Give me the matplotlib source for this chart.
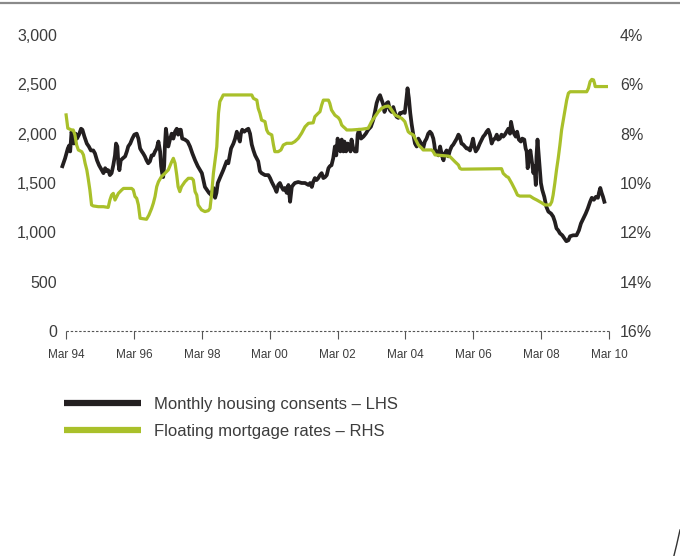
import matplotlib
matplotlib.use("Agg")
import matplotlib.pyplot as plt
from matplotlib.lines import Line2D
import numpy as np

# Monthly housing consents (left axis), dates as decimal years
consents_year = [
    1994.06, 1994.14, 1994.22, 1994.26, 1994.29, 1994.33, 1994.37, 1994.40, 1994.45, 1994.49,
    1994.55, 1994.61, 1994.65, 1994.71, 1994.78, 1994.84, 1994.90, 1994.97, 1995.02, 1995.08,
    1995.14, 1995.22, 1995.27, 1995.32, 1995.37, 1995.41, 1995.46, 1995.51, 1995.56, 1995.61,
    1995.64, 1995.68, 1995.71, 1995.74, 1995.78, 1995.84, 1995.91, 1995.96, 1996.00, 1996.06,
    1996.12, 1996.18, 1996.25, 1996.30, 1996.35, 1996.40, 1996.44, 1996.49, 1996.54, 1996.59,
    1996.64, 1996.69, 1996.74, 1996.79, 1996.84, 1996.89, 1996.94, 1996.97, 1997.00, 1997.03,
    1997.06, 1997.08, 1997.11, 1997.14, 1997.18, 1997.23, 1997.28, 1997.33, 1997.38, 1997.43,
    1997.47, 1997.52, 1997.55, 1997.59, 1997.67, 1997.75, 1997.82, 1997.89, 1997.97, 1998.05,
    1998.17, 1998.26, 1998.38, 1998.44, 1998.51, 1998.56, 1998.60, 1998.64, 1998.70, 1998.80,
    1998.90, 1998.95, 1999.03, 1999.10, 1999.15, 1999.20, 1999.24, 1999.29, 1999.32, 1999.36,
    1999.42, 1999.49, 1999.54, 1999.59, 1999.64, 1999.69, 1999.74, 1999.83, 1999.88, 1999.93,
    2000.03, 2000.13, 2000.18, 2000.23, 2000.32, 2000.37, 2000.42, 2000.47, 2000.52, 2000.57,
    2000.62, 2000.67, 2000.72, 2000.77, 2000.82, 2000.86, 2000.91, 2001.01, 2001.11, 2001.21,
    2001.31, 2001.36, 2001.41, 2001.45, 2001.50, 2001.55, 2001.60, 2001.65, 2001.70, 2001.75,
    2001.80, 2001.85, 2001.90, 2001.94, 2001.99, 2002.04, 2002.09, 2002.13, 2002.17, 2002.21,
    2002.25, 2002.29, 2002.34, 2002.37, 2002.42, 2002.47, 2002.50, 2002.55, 2002.58, 2002.63,
    2002.68, 2002.73, 2002.76, 2002.80, 2002.86, 2002.93, 2003.00, 2003.07, 2003.15, 2003.22,
    2003.27, 2003.32, 2003.37, 2003.42, 2003.47, 2003.52, 2003.55, 2003.59, 2003.62, 2003.66,
    2003.71, 2003.76, 2003.81, 2003.86, 2003.91, 2003.96, 2004.01, 2004.06, 2004.10, 2004.15,
    2004.20, 2004.23, 2004.27, 2004.31, 2004.35, 2004.40, 2004.45, 2004.50, 2004.55, 2004.60,
    2004.65, 2004.69, 2004.74, 2004.79, 2004.84, 2004.89, 2004.94, 2004.99, 2005.02, 2005.04,
    2005.09, 2005.14, 2005.19, 2005.22, 2005.25, 2005.29, 2005.33, 2005.38, 2005.43, 2005.48,
    2005.53, 2005.58, 2005.63, 2005.68, 2005.73, 2005.77, 2005.82, 2005.87, 2005.92, 2005.97,
    2006.02, 2006.07, 2006.12, 2006.16, 2006.20, 2006.24, 2006.30, 2006.36, 2006.46, 2006.51,
    2006.56, 2006.61, 2006.66, 2006.71, 2006.76, 2006.81, 2006.86, 2006.90, 2006.95, 2007.00,
    2007.05, 2007.10, 2007.15, 2007.20, 2007.25, 2007.28, 2007.32, 2007.37, 2007.42, 2007.46,
    2007.51, 2007.57, 2007.61, 2007.67, 2007.71, 2007.74, 2007.77, 2007.81, 2007.85, 2007.89,
    2007.94, 2007.97, 2008.01, 2008.03, 2008.06, 2008.08, 2008.12, 2008.16, 2008.20, 2008.26,
    2008.32, 2008.38, 2008.46, 2008.52, 2008.57, 2008.62, 2008.67, 2008.72, 2008.79, 2008.85,
    2008.91, 2008.97, 2009.02, 2009.11, 2009.21, 2009.28, 2009.34, 2009.41, 2009.48, 2009.54,
    2009.61, 2009.66, 2009.72, 2009.78, 2009.84, 2009.87, 2009.91, 2009.95, 2009.99, 2010.03,
]
consents = [
    1670, 1750, 1850, 1880, 1820, 2020, 1950, 1900, 2000, 1950,
    1990, 2050, 2040, 1970, 1900, 1870, 1830, 1830, 1800, 1730,
    1680, 1630, 1600, 1650, 1620, 1630, 1580, 1600, 1680, 1780,
    1900, 1870, 1700, 1630, 1730, 1750, 1770, 1820, 1870, 1900,
    1950, 1990, 2000, 1950, 1850, 1820, 1800, 1770, 1730, 1700,
    1720, 1780, 1780, 1820, 1850, 1920, 1820, 1670, 1600, 1560,
    1680, 1870, 2050, 1970, 1870, 1940, 2000, 1950, 2020, 2050,
    1990, 2040, 2040, 1950, 1940, 1920, 1870, 1800, 1730, 1670,
    1600, 1460, 1400, 1380, 1450, 1350, 1400, 1500, 1550, 1630,
    1720, 1700, 1850, 1900, 1950, 2020, 1970, 1920, 2000, 2040,
    2020, 2040, 2050, 2000, 1890, 1830, 1780, 1720, 1620, 1600,
    1580, 1580, 1550, 1510, 1450, 1410, 1480, 1500, 1460, 1430,
    1450, 1400, 1480, 1310, 1460, 1480, 1500, 1510, 1500, 1500,
    1480, 1500, 1460, 1510, 1550, 1530, 1550, 1580, 1600, 1550,
    1560, 1580, 1650, 1670, 1680, 1750, 1870, 1780, 1950, 1870,
    1820, 1940, 1820, 1920, 1820, 1900, 1870, 1820, 1940, 1850,
    1820, 1820, 1990, 2040, 1950, 1970, 2000, 2040, 2070, 2140,
    2220, 2310, 2360, 2390, 2340, 2290, 2220, 2260, 2310, 2320,
    2240, 2220, 2270, 2210, 2170, 2160, 2210, 2210, 2220, 2210,
    2360, 2460, 2360, 2210, 2100, 1990, 1900, 1870, 1950, 1920,
    1890, 1850, 1920, 1950, 2000, 2020, 2000, 1950, 1890, 1830,
    1820, 1780, 1870, 1820, 1770, 1730, 1800, 1830, 1770, 1830,
    1870, 1890, 1920, 1950, 1990, 1970, 1900, 1890, 1870, 1850,
    1850, 1830, 1890, 1950, 1870, 1820, 1850, 1900, 1970, 1990,
    2020, 2040, 1990, 1900, 1940, 1950, 1990, 1940, 1950, 1990,
    1970, 1990, 2020, 2050, 2000, 2120, 2050, 2000, 1970, 2020,
    1940, 1920, 1950, 1940, 1850, 1820, 1650, 1770, 1830, 1730,
    1600, 1670, 1480, 1770, 1940, 1850, 1670, 1500, 1430, 1360,
    1260, 1210, 1190, 1160, 1110, 1040, 1020, 990, 970, 940,
    910, 920, 960, 970, 970, 1020, 1090, 1140, 1190, 1240,
    1310, 1350, 1330, 1360, 1350, 1400, 1450, 1400, 1360, 1310,
]

# Floating mortgage rates, % (right axis, inverted)
rates_year = [
    1994.17, 1994.22, 1994.33, 1994.38, 1994.43, 1994.48, 1994.53, 1994.63, 1994.68, 1994.73,
    1994.78, 1994.82, 1994.87, 1994.92, 1994.97, 1995.12, 1995.27, 1995.41, 1995.46, 1995.51,
    1995.56, 1995.61, 1995.66, 1995.71, 1995.81, 1995.86, 1996.10, 1996.15, 1996.20, 1996.25,
    1996.30, 1996.35, 1996.54, 1996.61, 1996.69, 1996.74, 1996.79, 1996.84, 1996.89, 1996.98,
    1997.08, 1997.18, 1997.28, 1997.33, 1997.38, 1997.43, 1997.47, 1997.52, 1997.57, 1997.67,
    1997.77, 1997.87, 1997.92, 1997.97, 1998.02, 1998.06, 1998.16, 1998.26, 1998.36, 1998.41,
    1998.46, 1998.51, 1998.56, 1998.61, 1998.66, 1998.70, 1998.75, 1998.80, 1999.64, 1999.69,
    1999.79, 1999.83, 1999.88, 1999.93, 2000.03, 2000.08, 2000.13, 2000.23, 2000.28, 2000.32,
    2000.42, 2000.50, 2000.57, 2000.67, 2000.82, 2000.91, 2001.01, 2001.11, 2001.21, 2001.31,
    2001.45, 2001.50, 2001.60, 2001.65, 2001.70, 2001.75, 2001.90, 2001.94, 2001.99, 2002.09,
    2002.19, 2002.24, 2002.29, 2002.34, 2002.39, 2002.44, 2002.58, 2002.88, 2003.07, 2003.12,
    2003.17, 2003.27, 2003.37, 2003.47, 2003.57, 2003.66, 2003.71, 2003.76, 2003.86, 2003.96,
    2004.06, 2004.15, 2004.20, 2004.25, 2004.30, 2004.40, 2004.45, 2004.50, 2004.55, 2004.65,
    2004.69, 2004.94, 2004.99, 2005.04, 2005.43, 2005.48, 2005.53, 2005.63, 2005.73, 2005.77,
    2005.82, 2007.00, 2007.05, 2007.15, 2007.20, 2007.30, 2007.40, 2007.47, 2007.54, 2007.84,
    2007.94, 2008.04, 2008.18, 2008.28, 2008.43, 2008.48, 2008.52, 2008.57, 2008.62, 2008.67,
    2008.72, 2008.77, 2008.82, 2008.87, 2008.92, 2008.97, 2009.02, 2009.51, 2009.56, 2009.61,
    2009.66, 2009.71, 2009.74, 2009.76, 2010.09,
]
rates = [
    7.24, 7.78, 7.85, 7.85, 8.05, 8.46, 8.66, 8.73, 8.86, 9.20,
    9.47, 9.81, 10.28, 10.89, 10.93, 10.96, 10.96, 10.99, 10.69, 10.49,
    10.42, 10.69, 10.55, 10.42, 10.28, 10.22, 10.22, 10.28, 10.55, 10.62,
    10.89, 11.43, 11.47, 11.30, 11.03, 10.82, 10.55, 10.15, 9.95, 9.74,
    9.61, 9.47, 9.14, 9.00, 9.20, 9.68, 10.15, 10.35, 10.15, 9.95,
    9.81, 9.81, 9.88, 10.35, 10.49, 10.89, 11.09, 11.16, 11.12, 11.03,
    10.42, 9.61, 9.07, 8.53, 7.17, 6.70, 6.57, 6.43, 6.43, 6.57,
    6.64, 6.97, 7.17, 7.45, 7.51, 7.85, 7.98, 8.05, 8.46, 8.73,
    8.73, 8.66, 8.46, 8.39, 8.39, 8.32, 8.19, 7.98, 7.72, 7.58,
    7.56, 7.31, 7.17, 7.11, 6.84, 6.64, 6.64, 6.77, 7.04, 7.25,
    7.35, 7.45, 7.65, 7.72, 7.78, 7.85, 7.85, 7.82, 7.78, 7.65,
    7.51, 7.31, 7.11, 6.97, 6.90, 6.88, 6.93, 7.04, 7.24, 7.31,
    7.38, 7.51, 7.72, 7.92, 7.98, 8.05, 8.19, 8.32, 8.46, 8.59,
    8.66, 8.66, 8.73, 8.86, 8.91, 8.93, 9.00, 9.14, 9.27, 9.40,
    9.44, 9.42, 9.61, 9.74, 9.77, 10.01, 10.28, 10.49, 10.53, 10.53,
    10.62, 10.69, 10.80, 10.89, 10.89, 10.76, 10.49, 10.01, 9.47, 9.00,
    8.46, 7.85, 7.45, 7.04, 6.64, 6.36, 6.30, 6.30, 6.16, 5.89,
    5.80, 5.82, 5.96, 6.09, 6.09,
]

tick_years = [1994, 1996, 1998, 2000, 2002, 2004, 2006, 2008, 2010]
left_ticks = [0, 500, 1000, 1500, 2000, 2500, 3000]
right_ticks = [4, 6, 8, 10, 12, 14, 16]

BLACK = "#231f20"
GREEN = "#a9c02a"
TEXT = "#3c3c3c"
AXIS = "#555555"

plt.rcParams["font.family"] = ["Liberation Sans", "DejaVu Sans"]

fig = plt.figure(figsize=(6.8, 5.56), dpi=100)
ax = fig.add_axes([66 / 680, 225 / 556, 543 / 680, 296 / 556])
ax2 = ax.twinx()

line_c, = ax.plot(consents_year, consents, color=BLACK, lw=2.7,
                  solid_joinstyle="round", clip_on=False)
line_r, = ax2.plot(rates_year, rates, color=GREEN, lw=2.3,
                   solid_joinstyle="round", clip_on=False)

mar = 2 / 12  # ticks fall on March
ax.set_xlim(1994 + mar, 2010 + mar)
ax.set_ylim(0, 3000)
ax2.set_ylim(16, 4)

for a in (ax, ax2):
    for s in a.spines.values():
        s.set_visible(False)

# dashed zero line
ax.axhline(0, color=AXIS, lw=0.8, ls=(0, (2.2, 1.6)), clip_on=False)

ax.set_xticks([y + mar for y in tick_years])
ax.set_xticklabels([f"Mar {y % 100:02d}" for y in tick_years])
ax.tick_params(axis="x", direction="out", length=6, width=0.8, color=AXIS,
               pad=7, labelsize=8.5, labelcolor=TEXT)

ax.set_yticks(left_ticks)
ax.set_yticklabels([f"{v:,}" for v in left_ticks])
ax.tick_params(axis="y", length=0, pad=6.5, labelsize=11.5, labelcolor=TEXT)

ax2.set_yticks(right_ticks)
ax2.set_yticklabels([f"{v}%" for v in right_ticks])
ax2.tick_params(axis="y", length=0, pad=8, labelsize=11.5, labelcolor=TEXT)

handles = [Line2D([], [], color=BLACK, lw=4.5, solid_capstyle="butt"),
           Line2D([], [], color=GREEN, lw=4.5, solid_capstyle="butt")]
fig.legend(handles, ["Monthly housing consents \u2013 LHS",
                     "Floating mortgage rates \u2013 RHS"],
           loc="upper left", bbox_to_anchor=(64 / 680, 1 - 397 / 556),
           frameon=False, fontsize=12, handlelength=4.6, handletextpad=0.8,
           labelspacing=0.72, borderpad=0, borderaxespad=0, labelcolor=TEXT)

# page rule along the top edge
fig.add_artist(Line2D([0, 1], [1 - 3 / 556, 1 - 3 / 556], color="#8a8a8a",
                      lw=1.6, transform=fig.transFigure))
# corner stroke bottom right
fig.add_artist(Line2D([1.0, 0.995, 0.991], [1 - 530 / 556, 1 - 545 / 556, 0.0],
                      color="#333333", lw=1.0, transform=fig.transFigure))

fig.savefig("out.png", dpi=100)
